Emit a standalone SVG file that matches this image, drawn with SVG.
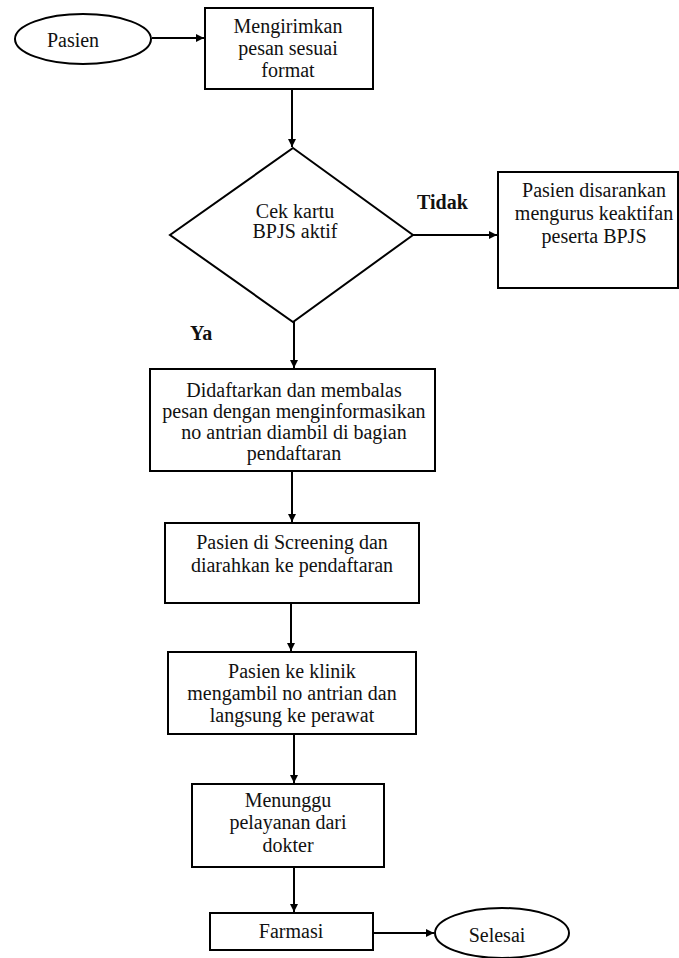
<svg xmlns="http://www.w3.org/2000/svg" width="679" height="958" viewBox="0 0 679 958">
<defs>
<marker id="ah" markerWidth="10" markerHeight="10" refX="9" refY="5" orient="auto" markerUnits="userSpaceOnUse">
<path d="M1,1 L9,5 L1,9 Z" fill="#000"/>
</marker>
<style>
.s{fill:#fff;stroke:#000;stroke-width:2}
.t{font-family:'Liberation Serif','DejaVu Serif',serif;font-size:20px;fill:#111;text-anchor:middle}
.b{font-weight:bold;text-anchor:start}
.c{fill:none;stroke:#000;stroke-width:2;marker-end:url(#ah)}
</style>
</defs>
<rect width="679" height="958" fill="#fff"/>
<g id="connectors">
<line class="c" x1="152" y1="38" x2="204" y2="38"/>
<line class="c" x1="292" y1="89" x2="292" y2="147"/>
<line class="c" x1="413" y1="235" x2="497" y2="235"/>
<line class="c" x1="294" y1="322" x2="294" y2="368"/>
<line class="c" x1="292" y1="471" x2="292" y2="522"/>
<line class="c" x1="291" y1="603" x2="291" y2="651"/>
<line class="c" x1="294" y1="734" x2="294" y2="783"/>
<line class="c" x1="294" y1="867" x2="294" y2="912"/>
<line class="c" x1="374" y1="933" x2="434" y2="933"/>
</g>
<g id="pasien">
<ellipse class="s" cx="83" cy="39" rx="68" ry="25"/>
<text class="t" x="73" y="47">Pasien</text>
</g>
<g id="kirim">
<rect class="s" x="205" y="8" width="168" height="81"/>
<text class="t" x="288" y="33">Mengirimkan</text>
<text class="t" x="288" y="55">pesan sesuai</text>
<text class="t" x="288" y="77">format</text>
</g>
<g id="cek">
<polygon class="s" points="293,148 413,235 293,322 170,235"/>
<text class="t" x="295" y="218">Cek kartu</text>
<text class="t" x="295" y="238">BPJS aktif</text>
</g>
<text class="t b" x="417" y="209">Tidak</text>
<text class="t b" x="190" y="340">Ya</text>
<g id="saran">
<rect class="s" x="498" y="172" width="180" height="116"/>
<text class="t" x="594" y="197">Pasien disarankan</text>
<text class="t" x="594" y="220">mengurus keaktifan</text>
<text class="t" x="594" y="243">peserta BPJS</text>
</g>
<g id="daftar">
<rect class="s" x="150" y="369" width="285" height="102"/>
<text class="t" x="294" y="397">Didaftarkan dan membalas</text>
<text class="t" x="294" y="418">pesan dengan menginformasikan</text>
<text class="t" x="294" y="439">no antrian diambil di bagian</text>
<text class="t" x="294" y="460">pendaftaran</text>
</g>
<g id="screening">
<rect class="s" x="165" y="523" width="254" height="80"/>
<text class="t" x="292" y="549">Pasien di Screening dan</text>
<text class="t" x="292" y="572">diarahkan ke pendaftaran</text>
</g>
<g id="klinik">
<rect class="s" x="168" y="652" width="248" height="82"/>
<text class="t" x="292" y="678">Pasien ke klinik</text>
<text class="t" x="292" y="700">mengambil no antrian dan</text>
<text class="t" x="292" y="722">langsung ke perawat</text>
</g>
<g id="menunggu">
<rect class="s" x="192" y="784" width="192" height="83"/>
<text class="t" x="288" y="807">Menunggu</text>
<text class="t" x="288" y="829">pelayanan dari</text>
<text class="t" x="288" y="852">dokter</text>
</g>
<g id="farmasi">
<rect class="s" x="210" y="913" width="163" height="37"/>
<text class="t" x="291" y="938">Farmasi</text>
</g>
<g id="selesai">
<ellipse class="s" cx="502" cy="933" rx="67" ry="25"/>
<text class="t" x="497" y="942">Selesai</text>
</g>
</svg>
